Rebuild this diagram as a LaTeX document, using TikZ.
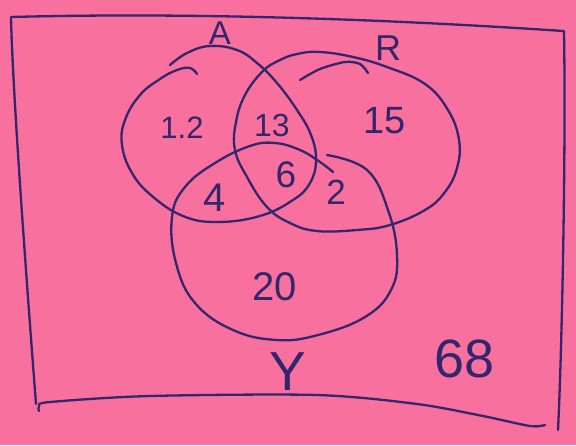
\documentclass[tikz,border=0pt]{standalone}
\usepackage{fontspec}
\setmainfont{Liberation Sans}
\definecolor{paper}{RGB}{248,112,158}
\definecolor{ink}{RGB}{52,38,108}
\begin{document}
\begin{tikzpicture}[x=1pt,y=-1pt,
  pen/.style={draw=ink,line width=2.3pt,line cap=round,line join=round},
  lbl/.style={text=ink,inner sep=0pt,font=\fontsize{#1}{#1}\selectfont},
  lbl/.default=28]
\fill[paper] (0,0) rectangle (576,445);
\useasboundingbox (0,0) rectangle (576,445);
% frame
\draw[pen] (11,18) .. controls (13,100) and (28,300) .. (36,404);
\draw[pen] (11,17) .. controls (200,12) and (400,20) .. (563,31);
\draw[pen] (564,31) .. controls (566,150) and (562,350) .. (558,430);
\draw[pen] plot[smooth] coordinates {(39,411)(39,406)(50,402)(150,396)(317,395)(417,404)(483,416)(530,426)(545,425)};
% set A
\draw[pen] plot[smooth,tension=0.7] coordinates {(170,65)(187,53)(210,46)(237,50)(257,63)(277,83)(297,110)(311,135)(316,160)(310,183)(293,200)(260,216)(217,222)(183,216)(152,196)(132,173)(122,145)(125,120)(140,95)(160,79)(177,70)(190,68)(197,74)};
% set R
\draw[pen] plot[smooth cycle,tension=0.7] coordinates {(297,54)(320,52)(353,57)(387,67)(425,84)(448,110)(459,140)(457,168)(445,192)(425,210)(390,225)(357,230)(317,231)(290,223)(267,207)(247,177)(235,150)(236,122)(245,95)(262,72)(278,61)};
\draw[pen] plot[smooth] coordinates {(300,80)(320,69)(345,62)(360,64)(368,73)};
% set Y
\draw[pen] plot[smooth,tension=0.7] coordinates {(327,155)(367,170)(388,210)(397,255)(391,290)(365,317)(318,335)(277,340)(233,330)(195,303)(176,263)(172,217)(185,187)(215,163)(250,146)(275,143)(300,150)(320,162)(333,172)};
% labels
\node[lbl=33] (lA) at (220,33) {A};
\node[lbl=36] (lR) at (388,48) {R};
\node[lbl=55] (lY) at (288,372) {Y};
\node[lbl=31] (n12) at (182,128) {1.2};
\node[lbl=32] (n13) at (272,125) {13};
\node[lbl=38] (n15) at (385,121) {15};
\node[lbl=40] (n4) at (215,198) {4};
\node[lbl=37] (n6) at (286,175) {6};
\node[lbl=35] (n2) at (336,192) {2};
\node[lbl=40] (n20) at (275,287) {20};
\node[lbl=54] (n68) at (465,359) {68};
\end{tikzpicture}
\end{document}
